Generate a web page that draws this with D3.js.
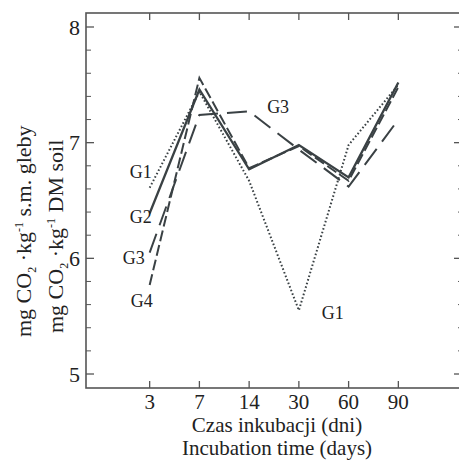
<!DOCTYPE html>
<html>
<head>
<meta charset="utf-8">
<script src="https://cdn.jsdelivr.net/npm/d3@7"></script>
<style>
  body { margin: 0; background: #fff; }
  svg { display: block; }
  svg text { font-family: "Times New Roman", "Liberation Serif", "DejaVu Serif", serif; fill: #222; }
</style>
</head>
<body>
<div id="chart"></div>
<script>
// Incubation days (categorical, evenly spaced)
const days = ["3", "7", "14", "30", "60", "90"];

// CO2 values per group
const g1 = [6.61, 7.44, 6.67, 5.55, 6.98, 7.50];
const g2 = [6.39, 7.46, 6.77, 6.98, 6.70, 7.52];
const g3 = [6.05, 7.24, 7.27, 6.94, 6.62, 7.20];
const g4 = [5.77, 7.56, 6.78, 6.97, 6.67, 7.48];

const yTicks = [5, 6, 7, 8];

const series = [
    { name: "G1", values: g1, dash: "1.6,2.2", width: 2 },
    { name: "G2", values: g2, dash: null, width: 2.3 },
    { name: "G3", values: g3, dash: "20,9", width: 2 },
    { name: "G4", values: g4, dash: "11,4", width: 2 }
];

const W = 459, H = 462;
const frame = { left: 86, right: 463, top: 13, bottom: 388 };
const ink = "#3a4144";

const svg = d3.select("#chart").append("svg")
    .attr("width", W)
    .attr("height", H);

// x: index based, tick 3 at ~150, 90 at ~398
const x = d3.scaleLinear()
    .domain([-1.28, 6.3])
    .range([frame.left, frame.right]);

const y = d3.scaleLinear()
    .domain([4.879, 8.121])
    .range([frame.bottom, frame.top]);

// frame
svg.append("rect")
    .attr("x", frame.left)
    .attr("y", frame.top)
    .attr("width", frame.right - frame.left)
    .attr("height", frame.bottom - frame.top)
    .attr("fill", "none")
    .attr("stroke", "#555")
    .attr("stroke-width", 1.6);

// x ticks (bottom and top, inward)
const xIdx = d3.range(days.length);
const tickG = svg.append("g").attr("stroke", "#555").attr("stroke-width", 1.3);
xIdx.forEach(i => {
    tickG.append("line").attr("x1", x(i)).attr("x2", x(i))
        .attr("y1", frame.bottom).attr("y2", frame.bottom - 7);
    tickG.append("line").attr("x1", x(i)).attr("x2", x(i))
        .attr("y1", frame.top).attr("y2", frame.top + 7);
});

// y ticks: major every 1, minor every 0.2 (left and right, inward)
const minor = d3.range(5, 8.001, 0.2).filter(v => Math.abs(v - Math.round(v)) > 0.01);
yTicks.forEach(v => {
    tickG.append("line").attr("x1", frame.left).attr("x2", frame.left + 8)
        .attr("y1", y(v)).attr("y2", y(v));
    tickG.append("line").attr("x1", frame.right).attr("x2", frame.right - 9)
        .attr("y1", y(v)).attr("y2", y(v));
});
minor.forEach(v => {
    tickG.append("line").attr("x1", frame.left).attr("x2", frame.left + 5)
        .attr("y1", y(v)).attr("y2", y(v)).attr("stroke-width", 1);
    tickG.append("line").attr("x1", frame.right).attr("x2", frame.right - 5)
        .attr("y1", y(v)).attr("y2", y(v)).attr("stroke-width", 1);
});

// tick labels
svg.append("g").selectAll("text")
    .data(yTicks)
    .join("text")
    .attr("x", frame.left - 6)
    .attr("y", d => y(d))
    .attr("dy", "0.35em")
    .attr("text-anchor", "end")
    .style("font-size", "22px")
    .text(d => d);

svg.append("g").selectAll("text")
    .data(days)
    .join("text")
    .attr("x", (d, i) => x(i))
    .attr("y", 409)
    .attr("text-anchor", "middle")
    .style("font-size", "21px")
    .text(d => d);

// x title
const xCenter = 277;
svg.append("text").attr("x", xCenter).attr("y", 432)
    .attr("text-anchor", "middle").style("font-size", "21px")
    .text("Czas inkubacji (dni)");
svg.append("text").attr("x", xCenter).attr("y", 455)
    .attr("text-anchor", "middle").style("font-size", "21px")
    .text("Incubation time (days)");

// y title (two rotated lines, text starts at the bottom)
function yTitle(cx, startY, tail) {
    const t = svg.append("text")
        .attr("transform", `translate(${cx},${startY}) rotate(-90)`)
        .attr("text-anchor", "start")
        .style("font-size", "22px");
    t.append("tspan").text("mg CO");
    t.append("tspan").text("2").style("font-size", "12px").attr("dy", 5);
    t.append("tspan").text(" ·kg").attr("dy", -5);
    t.append("tspan").text("-1").style("font-size", "12px").attr("dy", -8);
    t.append("tspan").text(" " + tail).attr("dy", 8);
}
yTitle(31, 337, "s.m. gleby");
yTitle(63, 333, "DM soil");

// lines
const line = d3.line()
    .x((d, i) => x(i))
    .y(d => y(d));

svg.append("g").selectAll("path")
    .data(series)
    .join("path")
    .attr("d", d => line(d.values))
    .attr("fill", "none")
    .attr("stroke", ink)
    .attr("stroke-width", d => d.width)
    .attr("stroke-dasharray", d => d.dash)
    .attr("stroke-linejoin", "miter");

// series labels
const labels = [
    { text: "G1", i: 0, v: g1[0], dx: 2, dy: -16, anchor: "end" },
    { text: "G2", i: 0, v: g2[0], dx: 2, dy: 3, anchor: "end" },
    { text: "G3", i: 0, v: g3[0], dx: -5, dy: 5, anchor: "end" },
    { text: "G4", i: 0, v: g4[0], dx: 3, dy: 16, anchor: "end" },
    { text: "G3", i: 2, v: g3[2], dx: 18, dy: -5, anchor: "start" },
    { text: "G1", i: 3, v: g1[3], dx: 23, dy: 2, anchor: "start" }
];
svg.append("g").selectAll("text")
    .data(labels)
    .join("text")
    .attr("x", d => x(d.i) + d.dx)
    .attr("y", d => y(d.v) + d.dy)
    .attr("dy", "0.35em")
    .attr("text-anchor", d => d.anchor)
    .style("font-size", "18px")
    .text(d => d.text);
</script>
</body>
</html>
